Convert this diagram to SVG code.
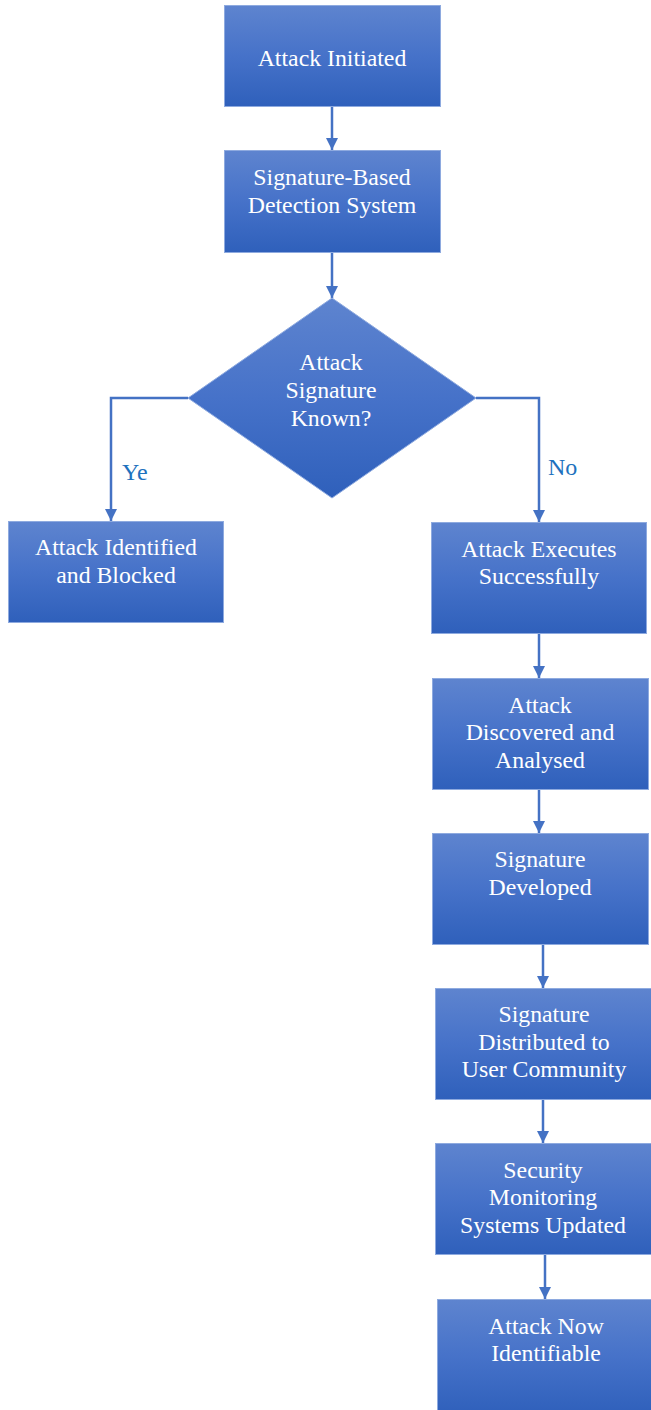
<svg xmlns="http://www.w3.org/2000/svg" width="651" height="1410" viewBox="0 0 651 1410">
<defs>
<linearGradient id="g" x1="0" y1="0" x2="0" y2="1">
<stop offset="0" stop-color="#5e84cf"/>
<stop offset="0.5" stop-color="#4672c9"/>
<stop offset="1" stop-color="#2f60bb"/>
</linearGradient>
<marker id="ah" markerWidth="12" markerHeight="12" viewBox="0 0 12 12" refX="12" refY="6" orient="auto" markerUnits="userSpaceOnUse">
<path d="M0,0 L12,6 L0,12 Z" fill="#4472c4"/>
</marker>
<style>
.n{fill:url(#g);stroke:#8eaadf;stroke-width:1}
.t{fill:#ffffff;font-family:"Liberation Serif","Times New Roman",serif;font-size:23.8px;text-anchor:middle}
.c{fill:none;stroke:#4472c4;stroke-width:2.5}
.l{fill:#1e72be;font-family:"Liberation Serif","Times New Roman",serif;font-size:24px}
</style>
</defs>
<g id="connectors">
<line class="c" x1="332" y1="106" x2="332" y2="150" marker-end="url(#ah)"/>
<line class="c" x1="332" y1="252" x2="332" y2="298" marker-end="url(#ah)"/>
<polyline class="c" points="188,398 111,398 111,521" marker-end="url(#ah)"/>
<polyline class="c" points="476,398 539,398 539,522" marker-end="url(#ah)"/>
<line class="c" x1="539" y1="633" x2="539" y2="678" marker-end="url(#ah)"/>
<line class="c" x1="539" y1="789" x2="539" y2="833" marker-end="url(#ah)"/>
<line class="c" x1="543" y1="944" x2="543" y2="988" marker-end="url(#ah)"/>
<line class="c" x1="543" y1="1099" x2="543" y2="1143" marker-end="url(#ah)"/>
<line class="c" x1="545" y1="1254" x2="545" y2="1299" marker-end="url(#ah)"/>
<text class="l" x="122" y="480">Ye</text>
<text class="l" x="548" y="475">No</text>
</g>
<g id="n1"><rect class="n" x="224.5" y="5.5" width="216" height="101"/><text class="t" x="332" y="66">Attack Initiated</text></g>
<g id="n2"><rect class="n" x="224.5" y="150.5" width="216" height="102"/><text class="t" x="332" y="185">Signature-Based</text><text class="t" x="332" y="213">Detection System</text></g>
<g id="n3"><polygon class="n" points="332,298 476,398 332,498 188,398"/><text class="t" x="331" y="370">Attack</text><text class="t" x="331" y="398">Signature</text><text class="t" x="331" y="426">Known?</text></g>
<g id="n4"><rect class="n" x="8.5" y="521.5" width="215" height="101"/><text class="t" x="116" y="555">Attack Identified</text><text class="t" x="116" y="583">and Blocked</text></g>
<g id="n5"><rect class="n" x="431.5" y="522.5" width="215" height="111"/><text class="t" x="539" y="557">Attack Executes</text><text class="t" x="539" y="584">Successfully</text></g>
<g id="n6"><rect class="n" x="432.5" y="678.5" width="216" height="111"/><text class="t" x="540" y="713">Attack</text><text class="t" x="540" y="740">Discovered and</text><text class="t" x="540" y="768">Analysed</text></g>
<g id="n7"><rect class="n" x="432.5" y="833.5" width="216" height="111"/><text class="t" x="540" y="867">Signature</text><text class="t" x="540" y="895">Developed</text></g>
<g id="n8"><rect class="n" x="435.5" y="988.5" width="216" height="111"/><text class="t" x="544" y="1022">Signature</text><text class="t" x="544" y="1050">Distributed to</text><text class="t" x="544" y="1077">User Community</text></g>
<g id="n9"><rect class="n" x="435.5" y="1143.5" width="216" height="111"/><text class="t" x="543" y="1178">Security</text><text class="t" x="543" y="1205">Monitoring</text><text class="t" x="543" y="1233">Systems Updated</text></g>
<g id="n10"><rect class="n" x="437.5" y="1299.5" width="216" height="115"/><text class="t" x="546" y="1334">Attack Now</text><text class="t" x="546" y="1361">Identifiable</text></g>
</svg>
